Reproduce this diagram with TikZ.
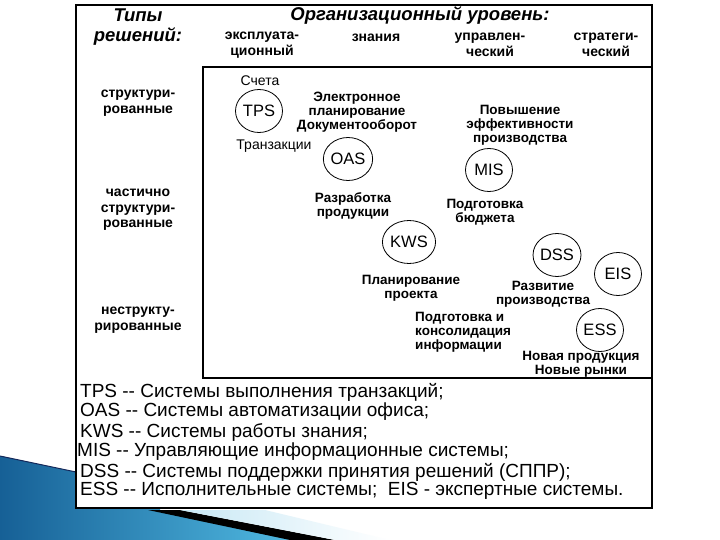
\documentclass[tikz,border=0pt]{standalone}
\usepackage{fontspec}
\setmainfont{Liberation Sans}
\usepackage{xcolor}
\usetikzlibrary{shapes.geometric}
\usetikzlibrary{positioning}

\definecolor{deepblue}{RGB}{22,96,150}
\definecolor{skyblue}{RGB}{80,185,225}
\definecolor{paleblue}{RGB}{200,232,245}
\definecolor{navyline}{RGB}{20,40,90}

\tikzset{
  sys/.style={ellipse, draw, line width=0.8pt, minimum width=47pt, minimum height=43pt,
    inner sep=0pt, font=\fontsize{16.5}{16.5}\selectfont},
  lbl/.style={align=center, inner sep=0pt, font=\fontsize{13.5}{13.8}\selectfont\bfseries},
  thin lbl/.style={align=center, inner sep=0pt, font=\fontsize{14}{14}\selectfont},
  head/.style={align=center, inner sep=0pt, font=\fontsize{18.5}{19.5}\selectfont\bfseries\itshape},
  axis/.style={align=center, inner sep=0pt, font=\fontsize{14}{15.5}\selectfont\bfseries},
  legend/.style={anchor=west, inner sep=0pt, font=\fontsize{19}{20}\selectfont}
}

\begin{document}
\begin{tikzpicture}[x=1pt,y=-1pt]
\useasboundingbox (0,0) rectangle (720,540);
\fill[white] (0,0) rectangle (720,540);
% slide ribbon
\shade[left color=deepblue, right color=skyblue] (0,456)--(160,490)--(160,510)--(292,540)--(0,540)--cycle;
\draw[navyline, line width=1pt] (0,456)--(76,472);
\fill[black] (148,510)--(180,510)--(335,540)--(290,540)--cycle;
\shade[left color=paleblue, right color=white] (180,510)--(265,510)--(390,540)--(335,540)--cycle;
% frames
\draw[line width=1.8pt, fill=white] (76,5) rectangle (652,508);
\draw[line width=1.3pt] (203,67) rectangle (652,378);

% header
\node[head] (types) at (138,27) {Типы\\решений:};
\node[head] (level) at (420,15) {Организационный уровень:};
\node[axis] (oper) at (262,45) {эксплуата-\\ционный};
\node[axis] (know) at (376,37.5) {знания};
\node[axis] (manag) at (490,45) {управлен-\\ческий};
\node[axis] (strat) at (606,45) {стратеги-\\ческий};
% row labels
\node[axis] (struct) at (138,103) {структури-\\рованные};
\node[axis] (semi) at (138,210) {частично\\структури-\\рованные};
\node[axis] (unstruct) at (138,320) {неструкту-\\рированные};

% systems
\node[sys] (tps) at (259,111) {TPS};
\node[sys] (oas) at (348,159) {OAS};
\node[sys] (mis) at (489,170) {MIS};
\node[sys] (kws) at (409,242) {KWS};
\node[sys] (dss) at (557,255) {DSS};
\node[sys] (eis) at (618,274) {EIS};
\node[sys] (ess) at (600,330) {ESS};

% tasks
\node[thin lbl] (bills) at (260,81) {Счета};
\node[thin lbl] (trans) at (274,146) {Транзакции};
\node[lbl] (office) at (357,112) {Электронное\\планирование\\Документооборот};
\node[lbl] (effic) at (520,125) {Повышение\\эффективности\\производства};
\node[lbl] (design) at (353,206) {Разработка\\продукции};
\node[lbl] (budget) at (485,212) {Подготовка\\бюджета};
\node[lbl] (project) at (411,288) {Планирование\\проекта};
\node[lbl] (growth) at (543,294) {Развитие\\производства};
\node[lbl, align=left, anchor=west] (consol) at (415,332) {Подготовка и\\консолидация\\информации};
\node[lbl] (market) at (581,364) {Новая продукция\\Новые рынки};

% legend
\node[legend] (ltps) at (80,392) {TPS -{}- Системы выполнения транзакций;};
\node[legend] (loas) at (80,412) {OAS -{}- Системы автоматизации офиса;};
\node[legend] (lkws) at (80,433) {KWS -{}- Системы работы знания;};
\node[legend] (lmis) at (77,452) {MIS -{}- Управляющие информационные системы;};
\node[legend] (ldss) at (80,472) {DSS -{}- Системы поддержки принятия решений (СППР);};
\node[legend] (less) at (80,491) {ESS -{}- Исполнительные системы;\ \ EIS - экспертные системы.};
\end{tikzpicture}
\end{document}
